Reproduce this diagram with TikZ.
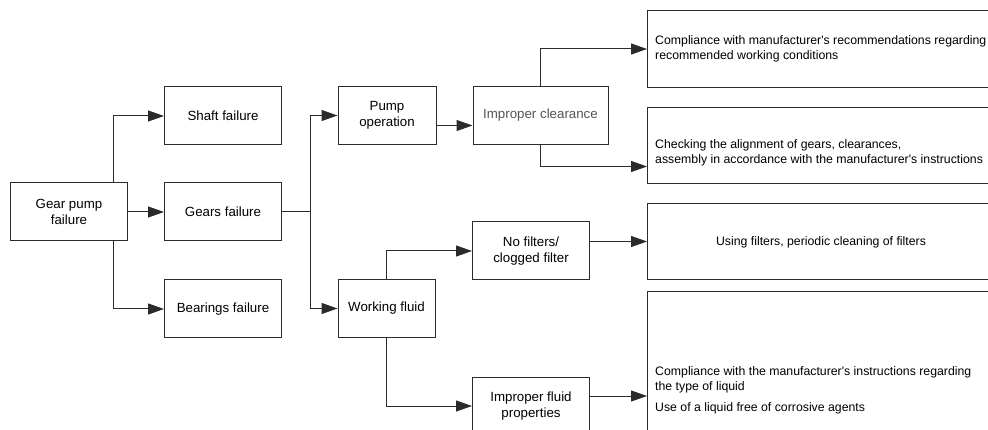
\documentclass[tikz,border=0pt]{standalone}
\usepackage{fontspec}
\setmainfont{Liberation Sans}
\usetikzlibrary{arrows.meta, positioning}
\definecolor{edge}{HTML}{2B2B2B}
\definecolor{dimtext}{HTML}{555555}

\begin{document}
\begin{tikzpicture}[x=1pt, y=-1pt,
    box/.style={draw=edge, line width=1pt, fill=white, minimum width=117pt, minimum height=58pt, align=center, inner sep=2pt, font=\fontsize{13.3}{15.5}\selectfont},
    wide/.style={draw=edge, line width=1pt, fill=white, minimum width=365pt, anchor=north west},
    note/.style={anchor=west, align=left, inner sep=0pt, font=\fontsize{12.3}{15}\selectfont},
    arr/.style={-{Triangle[length=16pt, width=11pt]}, line width=1pt, edge}
]
\useasboundingbox (0,0) rectangle (988,430);
\clip (0,0) rectangle (988,430);

\node[box] (gp) at (69,212) {Gear pump\\failure};
\node[box] (shaft) at (223,116) {Shaft failure};
\node[box] (gears) at (223,212) {Gears failure};
\node[box] (bear) at (223,309) {Bearings failure};
\node[box, minimum width=98pt] (pump) at (387,115.5) {Pump\\operation};
\node[box, minimum width=135pt, text=dimtext] (clear) at (540.5,115.5) {Improper clearance};
\node[box, minimum width=97pt] (fluid) at (386.5,308.5) {Working fluid};
\node[box] (nofilt) at (531,251) {No filters/\\clogged filter};
\node[box] (fprop) at (531,406) {Improper fluid\\properties};

\node[wide, minimum height=77pt] (rec1) at (647,10) {};
\node[wide, minimum height=76pt] (rec2) at (647,107) {};
\node[wide, minimum height=76pt] (rec3) at (647,203) {};
\node[wide, minimum height=150pt] (rec4) at (647,291) {};

\node[note] (t1) at (655,49) {Compliance with manufacturer\textquotesingle s recommendations regarding\\recommended working conditions};
\node[note] (t2) at (655,152.5) {Checking the alignment of gears, clearances,\\assembly in accordance with the manufacturer\textquotesingle s instructions};
\node[note, anchor=center] (t3) at (821,242) {Using filters, periodic cleaning of filters};
\node[note] (t4) at (655,390) {Compliance with the manufacturer\textquotesingle s instructions regarding\\the type of liquid\\[6pt]Use of a liquid free of corrosive agents};

\coordinate (split) at (310,212);

\draw[arr] ([xshift=-15pt]gp.north east) |- (shaft.west);
\draw[arr] (gp) -- (gears);
\draw[arr] ([xshift=-15pt]gp.south east) |- (bear.west);
\draw[line width=1pt, edge] (gears) -- (split);
\draw[arr] (split) |- (pump.west);
\draw[arr] (split) |- (fluid.west);
\draw[arr] ([yshift=-10pt]pump.east) -- ([yshift=-10pt]pump.east -| clear.west);
\draw[arr] (clear.north) |- (rec1.west);
\draw[arr] (clear.south) |- ([yshift=-21pt]rec2.west);
\draw[arr] (fluid.north) |- (nofilt.west);
\draw[arr] (fluid.south) |- (fprop.west);
\draw[arr] (nofilt.east |- rec3.west) -- (rec3.west);
\draw[arr] ([yshift=10pt]fprop.east) -- ([yshift=10pt]fprop.east -| rec4.west);
\end{tikzpicture}
\end{document}
